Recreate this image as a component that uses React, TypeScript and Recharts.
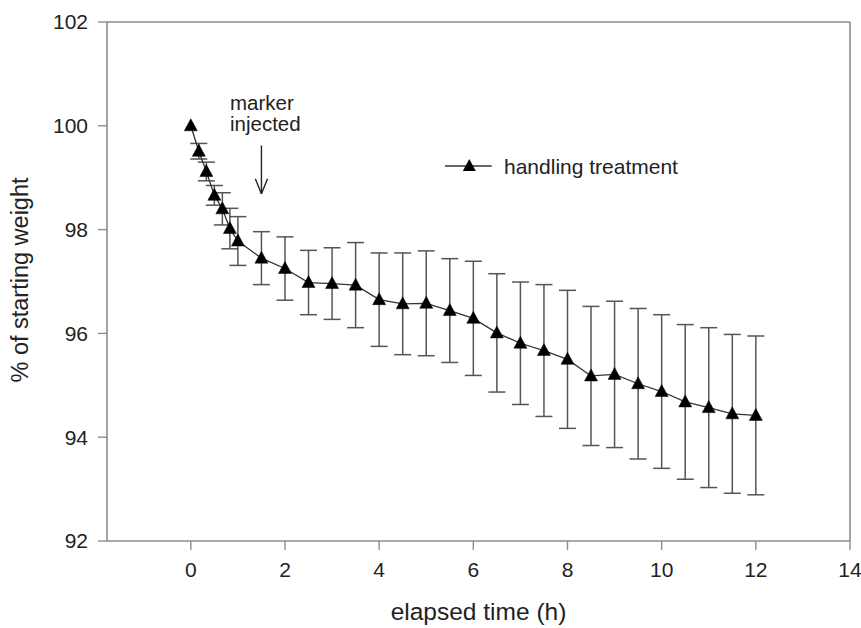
import React from 'react';
import {
  ComposedChart,
  Line,
  XAxis,
  YAxis,
  ErrorBar,
  ReferenceLine,
  Legend,
  Customized,
} from 'recharts';

// elapsed time (h)
const times = [0, 0.17, 0.33, 0.5, 0.67, 0.83, 1, 1.5, 2, 2.5, 3, 3.5, 4, 4.5, 5, 5.5, 6, 6.5, 7, 7.5, 8, 8.5, 9, 9.5, 10, 10.5, 11, 11.5, 12];
// % of starting weight (mean)
const weightPct = [100, 99.51, 99.12, 98.66, 98.4, 98.02, 97.78, 97.45, 97.25, 96.98, 96.96, 96.93, 96.65, 96.57, 96.58, 96.44, 96.29, 96.01, 95.81, 95.67, 95.5, 95.18, 95.21, 95.03, 94.88, 94.68, 94.57, 94.45, 94.42];
// error (+/-)
const errPct = [0, 0.15, 0.18, 0.19, 0.31, 0.39, 0.47, 0.51, 0.61, 0.62, 0.69, 0.82, 0.9, 0.98, 1.01, 1.0, 1.1, 1.14, 1.18, 1.27, 1.33, 1.34, 1.41, 1.45, 1.48, 1.49, 1.54, 1.53, 1.53];

const xTicks = [0, 2, 4, 6, 8, 10, 12, 14];
const yTicks = [92, 94, 96, 98, 100, 102];
const seriesName = 'handling treatment';
const annotationLines = ['marker', 'injected'];
const markerTime = 1.5;

const data = times.map((t, i) => ({ t, w: weightPct[i], e: errPct[i] }));

const FONT = 'Arial, "Liberation Sans", Helvetica, sans-serif';
const AXIS = '#8c8c8c';

const Triangle = (props: any) => {
  const { cx, cy } = props;
  if (cx == null || cy == null) return null;
  return (
    <polygon
      points={`${cx},${cy - 7} ${cx - 6.5},${cy + 5} ${cx + 6.5},${cy + 5}`}
      fill="#000"
      stroke="#000"
      strokeWidth={0.5}
    />
  );
};

const LegendContent = () => (
  <svg width={260} height={30} style={{ overflow: 'visible' }}>
    <line x1={5} y1={14} x2={51.7} y2={14} stroke="#333" strokeWidth={1.3} />
    <polygon points={`29.3,7 22.8,19 35.8,19`} fill="#000" />
    <text x={64} y={21.5} fontFamily={FONT} fontSize={21} fill="#222">
      {seriesName}
    </text>
  </svg>
);

const Annotation = () => (
  <g>
    <text fontFamily={FONT} fontSize={20.5} fill="#222">
      <tspan x={230} y={109.5}>{annotationLines[0]}</tspan>
      <tspan x={230} y={131}>{annotationLines[1]}</tspan>
    </text>
  </g>
);

export default function App() {
  return (
    <div style={{ position: 'absolute', left: 0, top: 0, width: 861, height: 628, background: '#fff' }}>
      <ComposedChart
        width={861}
        height={628}
        data={data}
        margin={{ top: 22, right: 11, bottom: 0, left: 0 }}
      >
        <XAxis
          dataKey="t"
          type="number"
          domain={[-1.78, 14]}
          ticks={xTicks}
          allowDataOverflow
          height={87}
          axisLine={{ stroke: AXIS, strokeWidth: 1.6 }}
          tickLine={{ stroke: AXIS, strokeWidth: 1.4 }}
          tickSize={9}
          tickMargin={12}
          tick={{ fontFamily: FONT, fontSize: 21, fill: '#222' }}
          label={{
            content: () => (
              <text x={478.5} y={620} textAnchor="middle" fontFamily={FONT} fontSize={24.5} fill="#222">
                elapsed time (h)
              </text>
            ),
          }}
        />
        <YAxis
          type="number"
          domain={[92, 102]}
          ticks={yTicks}
          allowDataOverflow
          width={107}
          axisLine={{ stroke: AXIS, strokeWidth: 1.6 }}
          tickLine={{ stroke: AXIS, strokeWidth: 1.4 }}
          tickSize={9}
          tickMargin={10}
          tick={{ fontFamily: FONT, fontSize: 21, fill: '#222' }}
          label={{
            content: () => (
              <text
                x={28}
                y={280}
                transform="rotate(-90, 28, 280)"
                textAnchor="middle"
                fontFamily={FONT}
                fontSize={23.5}
                fill="#222"
              >
                % of starting weight
              </text>
            ),
          }}
        />
        <ReferenceLine y={102} stroke={AXIS} strokeWidth={1.6} />
        <ReferenceLine x={14} stroke={AXIS} strokeWidth={1.6} />
        <ReferenceLine
          segment={[{ x: markerTime, y: 99.62 }, { x: markerTime, y: 98.69 }]}
          stroke="#222"
          strokeWidth={1.4}
        />
        <ReferenceLine
          segment={[{ x: markerTime - 0.13, y: 98.98 }, { x: markerTime, y: 98.69 }]}
          stroke="#222"
          strokeWidth={1.4}
        />
        <ReferenceLine
          segment={[{ x: markerTime + 0.13, y: 98.98 }, { x: markerTime, y: 98.69 }]}
          stroke="#222"
          strokeWidth={1.4}
        />
        <Legend
          layout="horizontal"
          verticalAlign="middle"
          align="center"
          content={LegendContent}
          wrapperStyle={{ position: 'absolute', left: 440, top: 152, width: 260, height: 30 }}
        />
        <Line
          type="linear"
          dataKey="w"
          name={seriesName}
          stroke="#333"
          strokeWidth={1.3}
          dot={<Triangle />}
          activeDot={false}
          isAnimationActive={false}
        >
          <ErrorBar dataKey="e" direction="y" width={8.5} stroke="#555" strokeWidth={1.5} />
        </Line>
        <Customized component={Annotation} />
      </ComposedChart>
    </div>
  );
}
